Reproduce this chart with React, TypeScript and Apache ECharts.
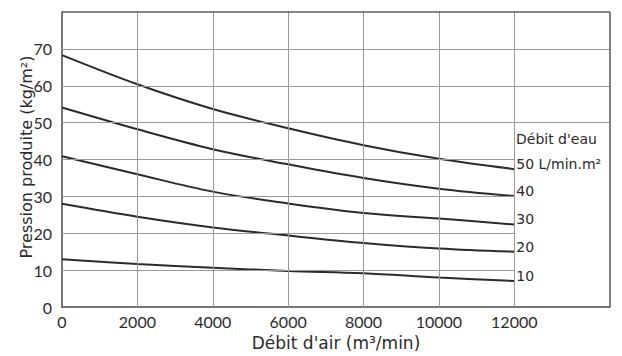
import React, { useEffect, useRef } from "react";
import * as echarts from "echarts";

const airFlow = [0, 2000, 4000, 6000, 8000, 10000, 12000];
const water50 = [68.3, 60.4, 53.7, 48.5, 43.9, 40.2, 37.4];
const water40 = [54.1, 48.2, 42.8, 38.7, 35.0, 32.1, 30.1];
const water30 = [40.9, 36.0, 31.3, 28.1, 25.5, 24.0, 22.4];
const water20 = [28.0, 24.5, 21.6, 19.4, 17.4, 15.9, 15.0];
const water10 = [13.0, 11.7, 10.7, 9.8, 9.2, 8.0, 7.1];
const seriesNames = ["50 L/min.m²", "40", "30", "20", "10"];
const xTicks = [2000, 4000, 6000, 8000, 10000, 12000];
const yFullTicks = [50, 60, 70];
const yShortTicks = [10, 20, 30, 40];
const xMax = 14540;
const yMax = 80;

const FONT = "Lato";
const WIDE = "DejaVu Sans";
const INK = "#2b2b2b";
const GRID = "#999999";
const FRAME = "#5a5a5a";

export default function App() {
  const ref = useRef<HTMLDivElement>(null);
  useEffect(() => {
    document.body.style.margin = "0";
    if (!ref.current) return;
    const chart = echarts.init(ref.current, null, { renderer: "svg" });
    const all = [water50, water40, water30, water20, water10];
    const gridLines: any[] = [
      ...xTicks.map((v) => ({ xAxis: v })),
      ...yFullTicks.map((v) => ({ yAxis: v })),
      ...yShortTicks.map((v) => [{ coord: [0, v] }, { coord: [12000, v] }]),
    ];
    const frameLines: any[] = [{ yAxis: yMax }, { xAxis: xMax }];
    const curves = all.map((vals, i) => ({
      name: seriesNames[i],
      type: "line",
      smooth: 0.35,
      symbol: "none",
      z: 3,
      data: vals.map((v, j) => [airFlow[j], v]),
      lineStyle: { color: INK, width: 2 },
      endLabel: {
        show: true,
        formatter: "{a}",
        color: INK,
        fontFamily: WIDE,
        fontSize: 14,
        offset: [0, -5],
        distance: 2,
      },
    }));
    chart.setOption({
      animation: false,
      backgroundColor: "#ffffff",
      grid: { left: 62, top: 12, right: 12, bottom: 46.5 },
      xAxis: {
        type: "value",
        min: 0,
        max: xMax,
        interval: 2000,
        splitLine: { show: false },
        axisTick: { show: false },
        axisLine: { show: true, lineStyle: { color: "#4a4a4a", width: 1.5 } },
        axisLabel: {
          color: INK,
          fontFamily: FONT,
          fontSize: 16,
          margin: 6,
          showMaxLabel: false,
          formatter: (v: number) => (v > 12000 ? "" : String(v)),
        },
        name: "Débit d'air (m³/min)",
        nameLocation: "middle",
        nameGap: 23,
        nameTextStyle: { color: INK, fontFamily: WIDE, fontSize: 17, verticalAlign: "top" },
      },
      yAxis: {
        type: "value",
        min: 0,
        max: yMax,
        interval: 10,
        splitLine: { show: false },
        axisTick: { show: false },
        axisLine: { show: true, lineStyle: { color: "#4a4a4a", width: 1.5 } },
        axisLabel: {
          color: INK,
          fontFamily: FONT,
          fontSize: 16,
          margin: 10,
          padding: [0, 0, 8, 0],
          formatter: (v: number) => (v >= 80 ? "" : String(v)),
        },
        name: "Pression produite (kg/m²)",
        nameLocation: "middle",
        nameGap: 28,
        nameMoveOverlap: false,
        nameTextStyle: {
          color: INK,
          fontFamily: WIDE,
          fontSize: 16,
          padding: [0, 0, 0, 5],
        },
      },
      graphic: [
        {
          type: "text",
          left: 516,
          top: 132,
          style: { text: "Débit d'eau", fill: INK, font: `14px '${WIDE}'` },
        },
      ],
      series: [
        {
          name: "grid",
          type: "line",
          data: [],
          z: 1,
          silent: true,
          markLine: {
            silent: true,
            symbol: "none",
            label: { show: false },
            lineStyle: { color: GRID, width: 1, type: "solid" },
            data: gridLines,
          },
        },
        {
          name: "frame",
          type: "line",
          data: [],
          z: 2,
          silent: true,
          markLine: {
            silent: true,
            symbol: "none",
            label: { show: false },
            lineStyle: { color: FRAME, width: 1.5, type: "solid" },
            data: frameLines,
          },
        },
        ...curves,
      ],
    });
    return () => chart.dispose();
  }, []);
  return <div ref={ref} style={{ width: 622, height: 356 }} />;
}
